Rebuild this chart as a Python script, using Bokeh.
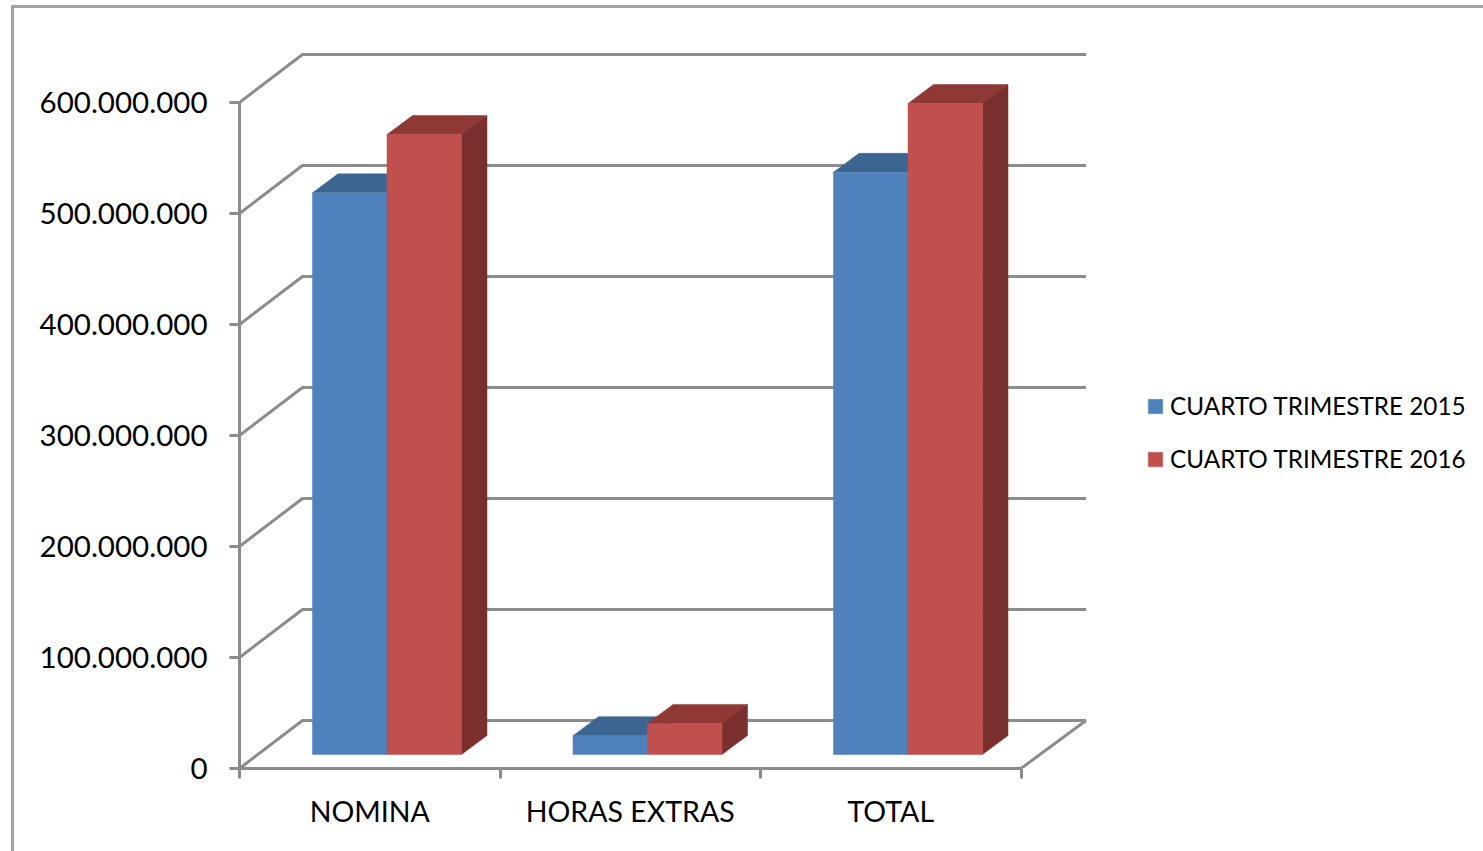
from bokeh.plotting import figure
from bokeh.embed import file_html
from bokeh.resources import INLINE
from bokeh.models import FixedTicker, Legend, LegendItem, LinearAxis, Range1d

categories = ["NOMINA", "HORAS EXTRAS", "TOTAL"]
series_names = ["CUARTO TRIMESTRE 2015", "CUARTO TRIMESTRE 2016"]
values_2015 = [506000000, 17000000, 524500000]
values_2016 = [558500000, 28000000, 586500000]
y_ticks = [0, 100000000, 200000000, 300000000, 400000000, 500000000, 600000000]
y_tick_labels = ["0", "100.000.000", "200.000.000", "300.000.000",
                 "400.000.000", "500.000.000", "600.000.000"]

W, H = 1483, 851
LEFT, BOTTOM = 239, 83
PX_X = 1 / 260.5          # category units per pixel
PX_Y = 100000000 / 111.0  # value units per pixel
FONT = "Lato"
GREY = "#8c8c8c"
FRAME = "#a3a3a3"

p = figure(width=W, height=H, output_backend="svg", toolbar_location=None,
           x_axis_type=None, y_axis_type=None,
           x_range=Range1d(0, (W - LEFT) * PX_X),
           y_range=Range1d(0, (H - BOTTOM) * PX_Y),
           min_border_left=LEFT, min_border_right=0, min_border_top=0,
           min_border_bottom=BOTTOM, outline_line_color=None,
           background_fill_alpha=0, border_fill_alpha=0)
p.grid.visible = False

# Outer frame of the picture: two thin lines behind the transparent canvas
p.styles = {
    "background-color": "white",
    "background-image": f"linear-gradient({FRAME},{FRAME}),linear-gradient({FRAME},{FRAME})",
    "background-size": f"3px {H}px,{W}px 3px",
    "background-position": "11px 5px,11px 5px",
    "background-repeat": "no-repeat",
}

# Walls and floor
wall_dx, wall_dx_far, wall_dy = 63 * PX_X, 65 * PX_X, 48 * PX_Y
n = len(categories)
xs, ys = [], []
for t in y_ticks:
    xs.append([0, wall_dx, n + wall_dx_far])
    ys.append([t, t + wall_dy, t + wall_dy])
xs.append([n, n + wall_dx_far])
ys.append([0, wall_dy])
p.multi_line(xs, ys, line_color=GREY, line_width=3)

# Bars
bar_w = 74.5 * PX_X
gap = 73 * PX_X
base = 14 * PX_Y
dep_x, dep_y = 25.5 * PX_X, 19 * PX_Y


def bars(vals, offset, front, top, side):
    l = [i + gap + offset * bar_w for i in range(n)]
    r = [a + bar_w for a in l]
    t = [v + base for v in vals]
    p.patches([[a, a + dep_x, b + dep_x, b] for a, b in zip(l, r)],
              [[v, v + dep_y, v + dep_y, v] for v in t],
              fill_color=top, line_color=top, line_width=0.5)
    p.patches([[b, b + dep_x, b + dep_x, b] for b in r],
              [[base, base + dep_y, v + dep_y, v] for v in t],
              fill_color=side, line_color=side, line_width=0.5)
    return p.quad(left=l, right=r, bottom=base, top=t,
                  fill_color=front, line_color=front, line_width=0.5)


q1 = bars(values_2015, 0, "#4f81bd", "#3c6591", "#335a85")
q2 = bars(values_2016, 1, "#c0504d", "#8f3937", "#7b2f2d")

# Axes
yaxis = LinearAxis(ticker=FixedTicker(ticks=y_ticks),
                   major_label_overrides=dict(zip(y_ticks, y_tick_labels)),
                   bounds=(0, y_ticks[-1]), axis_line_color=GREY, axis_line_width=3,
                   major_tick_line_color=GREY, major_tick_line_width=3,
                   major_tick_in=0, major_tick_out=10, minor_tick_out=0, minor_tick_in=0,
                   major_label_standoff=22, major_label_text_font=FONT,
                   major_label_text_font_size="29.5px", major_label_text_color="#000000")
p.add_layout(yaxis, "left")

centers = [i + 0.5 for i in range(n)]
xaxis = LinearAxis(ticker=FixedTicker(ticks=centers, minor_ticks=list(range(n + 1))),
                   major_label_overrides=dict(zip(centers, categories)),
                   bounds=(0, n), axis_line_color=GREY, axis_line_width=3,
                   major_tick_in=0, major_tick_out=0,
                   minor_tick_line_color=GREY, minor_tick_line_width=3,
                   minor_tick_in=0, minor_tick_out=10,
                   major_label_standoff=15, major_label_text_font=FONT,
                   major_label_text_font_size="28.5px", major_label_text_color="#000000")
p.add_layout(xaxis, "below")

# Legend
legend = Legend(items=[LegendItem(label=series_names[0], renderers=[q1]),
                       LegendItem(label=series_names[1], renderers=[q2])],
                location=(907, 295), orientation="vertical",
                border_line_color=None, background_fill_alpha=0,
                padding=0, margin=0, spacing=24,
                glyph_width=18, glyph_height=18, label_standoff=6,
                label_text_font=FONT, label_text_font_size="24.3px",
                label_text_color="#000000")
p.add_layout(legend, "center")

open("out.html", "w").write(file_html(p, INLINE))
